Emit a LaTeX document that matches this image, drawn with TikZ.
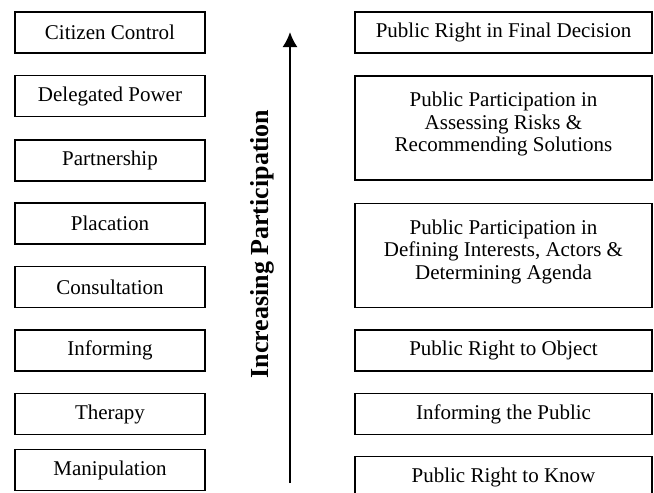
\documentclass[tikz,border=0pt]{standalone}
\usepackage{fontspec}
\setmainfont{Liberation Serif}
\usetikzlibrary{arrows.meta}
\tikzset{
  rung/.style={draw, line width=0.9pt, inner sep=0pt, align=center,
    font=\fontsize{10.5}{11.3}\selectfont},
  leftrung/.style={rung, minimum width=95pt, minimum height=20.5pt},
  rightrung/.style={rung, minimum width=148.5pt, minimum height=20.5pt},
  tallrung/.style={rightrung, minimum height=52pt, text depth=6pt}
}
\begin{document}
\begin{tikzpicture}[x=0.5pt,y=-0.5pt]
    \useasboundingbox (0,0) rectangle (654,493);
    %scala di sinistra
    \node[leftrung] (control) at (110,32.5) {Citizen Control};
    \node[leftrung] (delegated) at (110,96) {Delegated Power};
    \node[leftrung] (partner) at (110,160.5) {Partnership};
    \node[leftrung] (placation) at (110,223.5) {Placation};
    \node[leftrung] (consult) at (110,287) {Consultation};
    \node[leftrung] (inform) at (110,350.5) {Informing};
    \node[leftrung] (therapy) at (110,414) {Therapy};
    \node[leftrung] (manip) at (110,470) {Manipulation};
    %freccia centrale
    \coordinate (arrowbot) at (290,483);
    \coordinate (arrowtop) at (290,32);
    \draw[line width=1pt, -{Latex[length=7.5pt,width=7.5pt]}] (arrowbot) -- (arrowtop);
    \node[rotate=90, font=\fontsize{13}{15}\selectfont\bfseries] (increase) at (262,244) {Increasing Participation};
    %scala di destra
    \node[rightrung] (decision) at (503.5,32.5) {Public Right in Final Decision};
    \node[tallrung] (assess) at (503.5,128) {Public Participation in\\Assessing Risks \&\\Recommending Solutions};
    \node[tallrung] (define) at (503.5,255.5) {Public Participation in\\Defining Interests, Actors \&\\Determining Agenda};
    \node[rightrung] (object) at (503.5,350.5) {Public Right to Object};
    \node[rightrung] (public) at (503.5,414) {Informing the Public};
    \node[rightrung] (know) at (503.5,477) {Public Right to Know};
\end{tikzpicture}
\end{document}
